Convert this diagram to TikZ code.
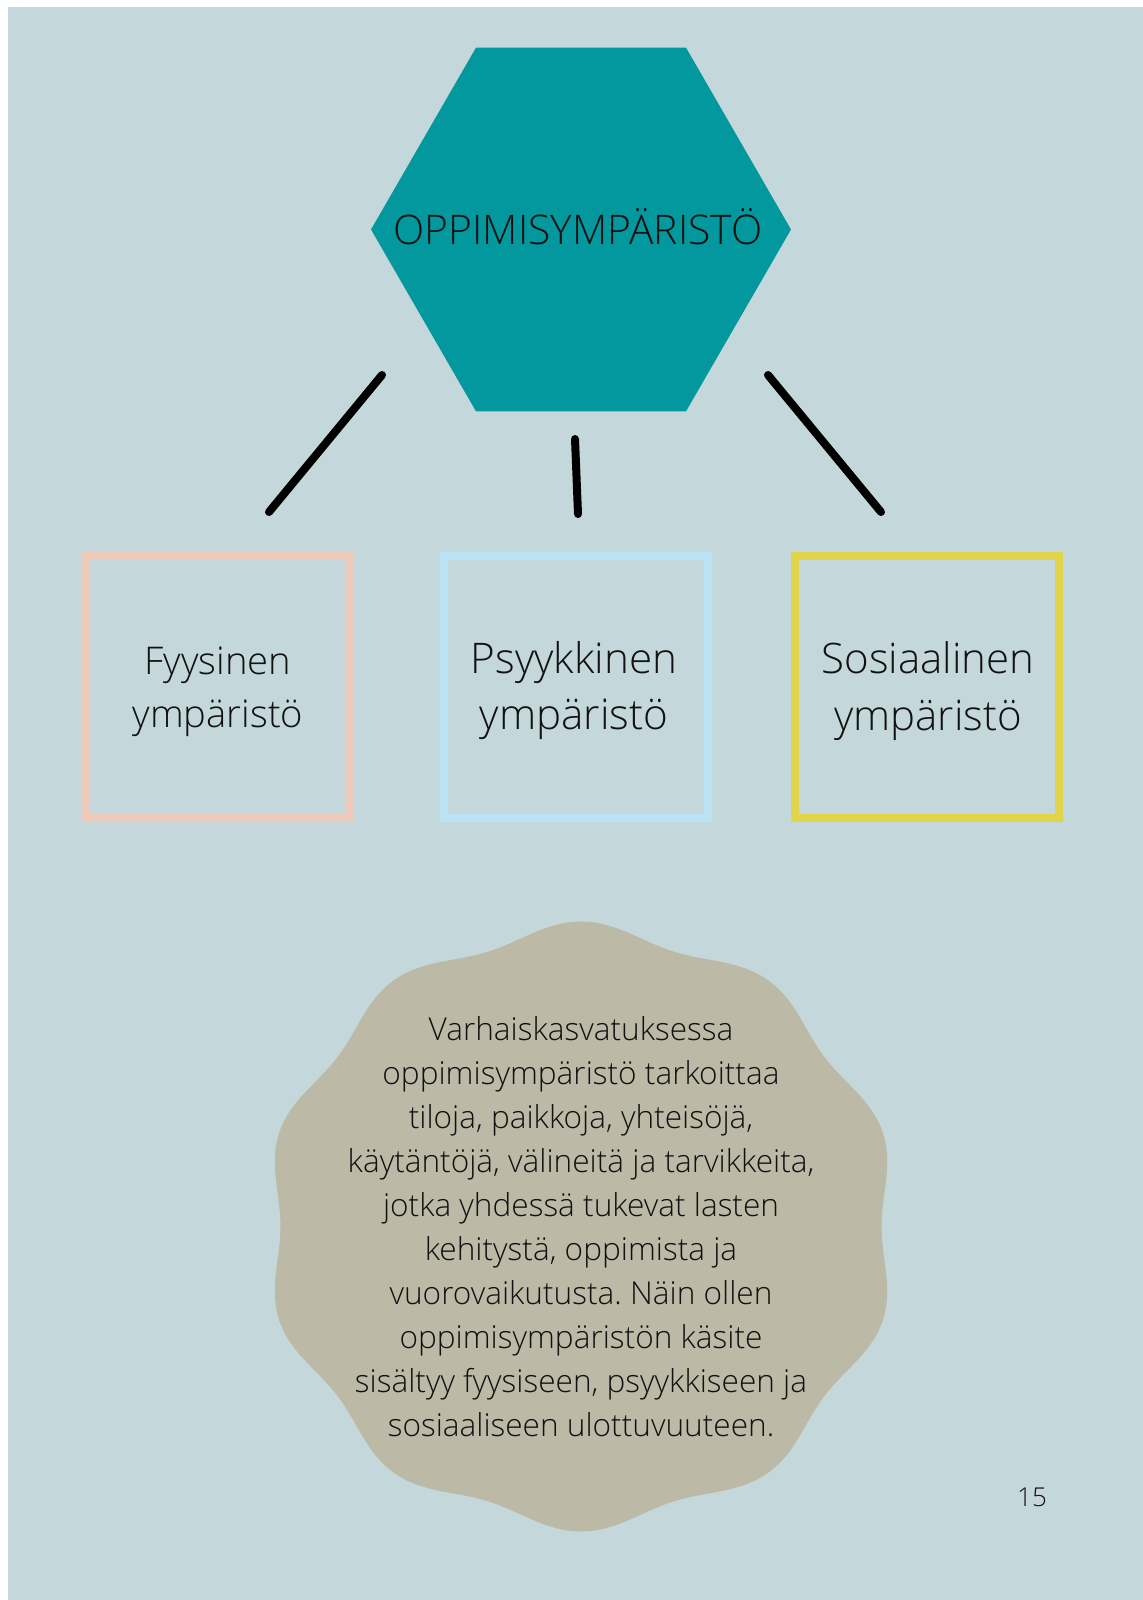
\documentclass[tikz,border=0pt]{standalone}
\usepackage{fontspec}
\setmainfont{Open Sans}[UprightFont=* Light]
\usetikzlibrary{shapes.geometric}
\definecolor{pagebg}{HTML}{C4D8DB}
\definecolor{hexteal}{HTML}{03989E}
\definecolor{fyspink}{HTML}{EECABB}
\definecolor{psyblue}{HTML}{BAE3F6}
\definecolor{sosyellow}{HTML}{E0D54A}
\definecolor{blobgray}{HTML}{BCB9A6}
\definecolor{ink}{HTML}{111111}
\newcommand{\fsz}[2]{\fontsize{#1}{#2}\selectfont}
\frenchspacing

\begin{document}
\begin{tikzpicture}[x=0.5pt,y=-0.5pt,
  text=ink,
  hexa/.style={regular polygon,regular polygon sides=6,fill=hexteal,minimum size=210pt,inner sep=0pt},
  envbox/.style={draw,line width=4.15pt,minimum width=132pt,minimum height=131.25pt,inner sep=0pt},
  envtext/.style={align=center,inner sep=0pt},
  link/.style={line width=4pt,line cap=round,black}]
\useasboundingbox (0,0) rectangle (1143,1600);
\fill[white] (0,0) rectangle (1143,1600);
\fill[pagebg] (8,7) rectangle (1143,1600);
% top hexagon
\node[hexa] (hex) at (581,229.5) {};
\node[anchor=base,font=\fsz{20.4}{24}] (hextitle) at (578,244) {OPPIMISYMPÄRISTÖ};
% three environments
\node[envbox,draw=fyspink] (fys) at (218,687) {};
\node[envbox,draw=psyblue] (psy) at (576,687) {};
\node[envbox,draw=sosyellow] (sos) at (927,687) {};
\node[envtext,font=\fsz{19.1}{26.5}] (fystext) at (218,692) {Fyysinen\\ympäristö};
\node[envtext,font=\fsz{21.1}{28}] (psytext) at (574,691) {Psyykkinen\\ympäristö};
\node[envtext,font=\fsz{21}{28.5}] (sostext) at (928,691) {Sosiaalinen\\ympäristö};
% connectors
\coordinate (fysA) at (382,375); \coordinate (fysB) at (269,512);
\coordinate (psyA) at (575,439); \coordinate (psyB) at (578,514);
\coordinate (sosA) at (768,375); \coordinate (sosB) at (881,512);
\draw[link] (fysA) -- (fysB);
\draw[link] (psyA) -- (psyB);
\draw[link] (sosA) -- (sosB);
% wavy badge with the definition
\fill[blobgray] plot[domain=0:358.5,samples=240,smooth cycle]
  ({581+1.04*(297-8*cos(10*\x))*cos(\x)},{1226.5-(297-8*cos(10*\x))*sin(\x)});
\node[align=center,font=\fsz{15.8}{22}] (desc) at (581,1227) {Varhaiskasvatuksessa\\
  oppimisympäristö tarkoittaa\\
  tiloja, paikkoja, yhteisöjä,\\
  käytäntöjä, välineitä ja tarvikkeita,\\
  jotka yhdessä tukevat lasten\\
  kehitystä, oppimista ja\\
  vuorovaikutusta. Näin ollen\\
  oppimisympäristön käsite\\
  sisältyy fyysiseen, psyykkiseen ja\\
  sosiaaliseen ulottuvuuteen.};
\node[font=\fsz{13}{15}] (pagenum) at (1032,1497) {15};
\end{tikzpicture}
\end{document}
